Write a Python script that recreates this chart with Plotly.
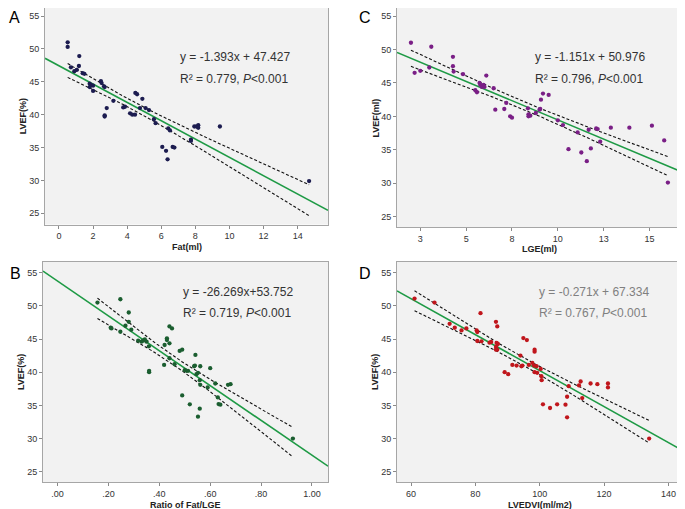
import numpy as np
import plotly.graph_objects as go

# ---------------- data ----------------
A_fat = [0.51,0.51,0.7,1.19,1.17,0.9,1.04,1.39,1.49,1.8,1.9,2.0,1.8,2.0,2.46,2.5,2.64,2.68,2.68,2.68,
         2.8,3.19,3.77,3.87,4.17,4.3,4.46,4.48,4.58,4.89,4.75,5.08,5.28,5.57,5.67,6.41,6.51,6.06,6.28,6.37,
         6.67,6.77,7.74,7.74,7.94,8.07,8.17,8.17,9.44,14.67]
A_lvef = [51.0,50.3,47.2,48.9,47.4,46.6,46.8,46.3,46.2,44.7,44.5,44.4,44.2,43.6,45.1,44.8,44.3,44.2,39.9,39.7,
          41.0,42.1,41.1,41.2,40.2,40.0,40.0,43.3,43.1,42.4,41.0,41.0,40.7,39.3,38.7,37.9,37.6,35.1,34.5,33.2,
          35.1,35.0,36.2,36.0,38.2,38.2,38.4,38.0,38.2,29.9]

C_lge = [1.99,2.19,2.5,2.99,3.1,4.28,4.28,4.32,4.83,5.5,5.59,5.73,5.77,5.86,5.95,6.0,6.1,6.5,6.59,7.08,
         7.19,7.4,7.5,8.37,8.4,8.5,8.4,8.8,9.0,9.08,9.04,9.19,9.5,10.0,10.28,10.58,11.08,11.28,11.58,11.8,
         11.68,12.09,12.17,12.31,12.89,13.9,15.13,15.8,16.0]
C_lvef = [51.0,46.5,46.8,47.3,50.4,48.9,47.5,46.7,46.3,43.9,43.6,45.0,44.7,44.4,44.7,44.4,46.1,44.2,41.0,41.1,
          42.0,40.0,39.8,41.2,40.3,40.1,40.0,40.5,41.0,42.5,41.1,43.4,43.2,39.4,38.7,35.1,37.6,34.6,33.3,35.2,
          38.0,38.2,38.1,36.2,38.3,38.3,38.6,36.4,30.1]

B_ratio = [0.157,0.247,0.28,0.28,0.267,0.209,0.212,0.247,0.29,0.317,0.33,0.336,0.343,0.35,0.359,0.36,0.36,
           0.421,0.419,0.43,0.43,0.44,0.44,0.44,0.45,0.46,0.48,0.49,0.49,0.5,0.507,0.513,0.52,0.537,0.54,
           0.542,0.546,0.552,0.552,0.559,0.561,0.559,0.561,0.59,0.6,0.62,0.63,0.633,0.64,0.67,0.68,0.925]
B_lvef = [50.5,51.0,49.0,47.6,47.0,46.7,46.6,46.1,46.4,44.75,44.6,44.75,44.95,44.6,43.9,40.0,40.2,
          44.1,41.1,45.1,44.85,44.35,42.1,46.9,46.6,41.2,43.2,43.4,36.5,40.3,40.2,40.2,35.15,40.9,41.0,
          42.6,39.7,39.9,33.3,34.5,40.9,38.8,38.1,37.7,40.6,38.3,36.2,35.2,35.1,38.1,38.2,30.0]

D_lvedvi = [61.1,67.3,81.6,72.0,73.6,75.7,77.2,80.4,80.6,80.6,81.9,86.4,86.8,84.9,84.4,86.6,87.0,86.4,86.4,86.8,
            94.9,96.0,98.4,98.4,94.0,91.5,92.8,94.3,94.6,89.1,90.2,96.6,97.7,98.2,99.0,98.4,99.2,100.3,100.5,100.6,
            101.0,103.2,105.4,108.0,108.5,108.5,109.0,112.2,112.7,113.2,115.8,117.9,121.2,121.2,134.0]
D_lvef = [51.1,50.5,48.9,47.3,46.7,46.3,46.6,46.3,46.05,44.7,44.65,47.6,46.9,44.55,44.45,44.4,44.25,43.8,43.4,43.4,
          45.15,44.85,43.4,43.1,42.5,41.1,41.0,40.9,41.0,40.0,39.7,41.1,41.4,41.0,40.9,40.0,39.9,40.5,39.4,38.8,
          35.15,34.6,35.15,35.1,36.3,33.2,37.9,38.0,38.6,36.1,38.3,38.2,38.3,37.7,30.0]

# regression equations as printed on the chart (slope, intercept)
A_fit = (-1.393, 47.427)
C_fit = (-1.151, 50.976)
B_fit = (-26.269, 53.752)
D_fit = (-0.271, 67.334)

A_text = ["y = -1.393x + 47.427", "R² = 0.779, <i>P</i>&lt;0.001"]
C_text = ["y = -1.151x + 50.976", "R² = 0.796, <i>P</i>&lt;0.001"]
B_text = ["y = -26.269x+53.752", "R² = 0.719, <i>P</i>&lt;0.001"]
D_text = ["y = -0.271x + 67.334", "R² = 0.767, <i>P</i>&lt;0.001"]

C_tickvals = [2.5, 5, 7.5, 10, 12.5, 15]
C_ticktext = ["3", "5", "8", "10", "13", "15"]
B_tickvals = [0, 0.2, 0.4, 0.6, 0.8, 1.0]
B_ticktext = [".00", ".20", ".40", ".60", ".80", "1.00"]
Y_ticks = [25, 30, 35, 40, 45, 50, 55]

# ---------------- figure ----------------
# the page body has an 8px default margin, so the figure is offset by 8px
OFF = 8
W, H = 685 - OFF, 509 - OFF
FONT = "Liberation Sans, Arial, sans-serif"
fig = go.Figure()

def px_x(v):
    return min(max((v - OFF) / W, 0.0), 1.0)

def px_y(v):
    return min(max(1 - (v - OFF) / H, 0.0), 1.0)

def yrange(top, bot, p55, p25):
    k = (p25 - p55) / 30.0
    return [25 - (bot - p25) / k, 55 + (p55 - top) / k]

panels = [
    dict(k="", x=A_fat, y=A_lvef, fit=A_fit, text=A_text, col="#1c1c50", xr=[-0.82, 15.78],
         box=(45, 8, 328, 224.5), ypix=(16, 213.3), xt="Fat(ml)", yt="LVEF(%)", lab="A", labx=8,
         tpos=(178, 57, 79), tcol="#333333", xtick=dict(tickvals=list(range(0, 16, 2)))),
    dict(k="2", x=C_lge, y=C_lvef, fit=C_fit, text=C_text, col="#7a1f86", xr=[1.23, 16.77],
         box=(397, 8, 682, 227), ypix=(16, 216.7), xt="LGE(ml)", yt="LVEF(ml)", lab="C", labx=358,
         tpos=(533, 57, 79), tcol="#333333", xtick=dict(tickvals=C_tickvals, ticktext=C_ticktext)),
    dict(k="3", x=B_ratio, y=B_lvef, fit=B_fit, text=B_text, col="#1b5e30", xr=[-0.057, 1.063],
         box=(43, 262, 328, 482), ypix=(272.7, 471.7), xt="Ratio of Fat/LGE", yt="LVEF(%)", lab="B",
         labx=8, laby=273, tpos=(181, 292, 313), tcol="#333333",
         xtick=dict(tickvals=B_tickvals, ticktext=B_ticktext)),
    dict(k="4", x=D_lvedvi, y=D_lvef, fit=D_fit, text=D_text, col="#c0161c", xr=[55.65, 144.2],
         box=(397, 262, 682, 482), ypix=(272.7, 471.7), xt="LVEDVI(ml/m2)", yt="LVEF(%)", lab="D",
         labx=357, laby=273, tpos=(537, 292, 313), tcol="#808080",
         xtick=dict(tickvals=[60, 80, 100, 120, 140])),
]

T_CRIT = 2.01
annotations = []
for p in panels:
    k = p["k"]
    xa, ya = "x" + k, "y" + k
    x = np.array(p["x"], float)
    y = np.array(p["y"], float)
    b, a = p["fit"]
    # mean confidence band computed from the data around the printed fit
    res = y - (a + b * x)
    n = len(x)
    s = np.sqrt(np.sum(res ** 2) / (n - 2))
    xbar = x.mean()
    sxx = np.sum((x - xbar) ** 2)
    xg = np.linspace(x.min(), x.max(), 80)
    half = T_CRIT * s * np.sqrt(1.0 / n + (xg - xbar) ** 2 / sxx)
    yfit = a + b * xg
    for yy in (yfit + half, yfit - half):
        fig.add_trace(go.Scatter(x=xg, y=yy, mode="lines", xaxis=xa, yaxis=ya,
                                 line=dict(color="#111111", width=1.1, dash="3px,2px"),
                                 hoverinfo="skip", showlegend=False))
    xl = np.array(p["xr"])
    fig.add_trace(go.Scatter(x=xl, y=a + b * xl, mode="lines", xaxis=xa, yaxis=ya,
                             line=dict(color="#1e9a45", width=1.6), showlegend=False))
    fig.add_trace(go.Scatter(x=x, y=y, mode="markers", xaxis=xa, yaxis=ya,
                             marker=dict(color=p["col"], size=4.3, line=dict(width=0)),
                             showlegend=False))

    l, t, r, bt = p["box"]
    axcommon = dict(showline=True, mirror=True, linecolor="#a6a6a6", linewidth=1,
                    ticks="outside", ticklen=3, tickcolor="#8a8a8a", showgrid=False,
                    zeroline=False, tickfont=dict(size=9, color="#333333", family=FONT))
    fig.update_layout(**{
        "xaxis" + k: dict(domain=[px_x(l), px_x(r)], range=p["xr"], anchor=ya,
                          **p["xtick"], **axcommon),
        "yaxis" + k: dict(domain=[px_y(bt), px_y(t)], range=yrange(t, bt, *p["ypix"]), anchor=xa,
                          tickvals=Y_ticks, **axcommon),
    })
    # axis titles
    annotations.append(dict(text="<b>%s</b>" % p["xt"], x=px_x((l + r) / 2), y=px_y(bt + 22.5),
                            xref="paper", yref="paper", showarrow=False,
                            font=dict(size=9, color="#222222", family=FONT),
                            xanchor="center", yanchor="middle"))
    annotations.append(dict(text="<b>%s</b>" % p["yt"], x=px_x(l - 22), y=px_y((t + bt) / 2),
                            xref="paper", yref="paper", showarrow=False, textangle=-90,
                            font=dict(size=9, color="#222222", family=FONT),
                            xanchor="center", yanchor="middle"))
    # equation text
    tx, ty1, ty2 = p["tpos"]
    for txt, ty in zip(p["text"], (ty1, ty2)):
        annotations.append(dict(text=txt, x=px_x(tx), y=px_y(ty), xref="paper", yref="paper",
                                showarrow=False, xanchor="left", yanchor="middle",
                                font=dict(size=12, color=p["tcol"], family=FONT)))
    # panel label
    if "laby" in p:
        annotations.append(dict(text=p["lab"], x=px_x(p["labx"]), y=px_y(p["laby"]),
                                xref="paper", yref="paper", showarrow=False,
                                xanchor="left", yanchor="middle",
                                font=dict(size=16, color="#000000", family=FONT)))
    else:
        annotations.append(dict(text=p["lab"], x=px_x(p["labx"]), y=1.0,
                                xref="paper", yref="paper", showarrow=False,
                                xanchor="left", yanchor="top", borderpad=0,
                                font=dict(size=16, color="#000000", family=FONT)))

fig.update_layout(width=W, height=H, margin=dict(l=0, r=0, t=0, b=0),
                  paper_bgcolor="white", plot_bgcolor="#f2f2f2",
                  annotations=annotations, showlegend=False,
                  font=dict(family=FONT))

fig.write_html("out.html")
